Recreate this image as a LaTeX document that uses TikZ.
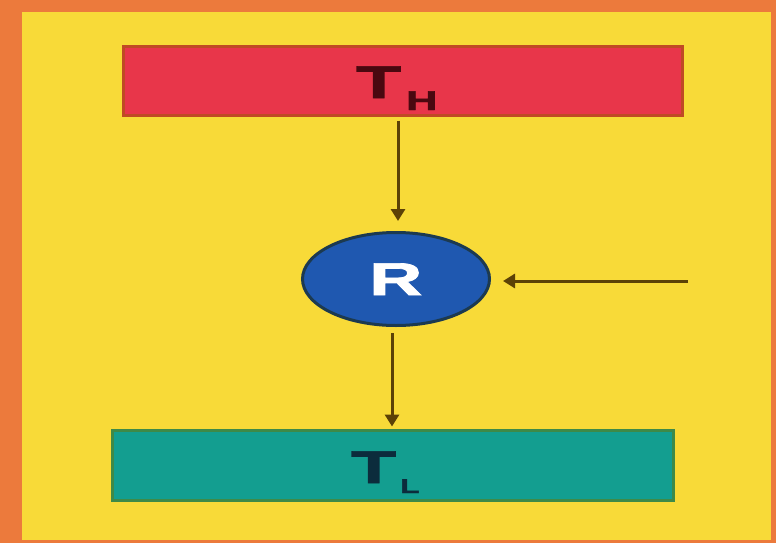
\documentclass[tikz,border=0pt]{standalone}
\usepackage{fontspec}
\setmainfont{Liberation Sans}
\newfontfamily\heavyfont[FakeBold=1.5]{Liberation Sans Bold}
\usetikzlibrary{arrows.meta,shapes.geometric}
\definecolor{bgorange}{HTML}{EC7A3C}
\definecolor{bgyellow}{HTML}{F8DA38}
\definecolor{boxred}{HTML}{E8364A}
\definecolor{boxredline}{HTML}{C04A24}
\definecolor{boxteal}{HTML}{139E90}
\definecolor{boxtealline}{HTML}{3E8A48}
\definecolor{circblue}{HTML}{1F58B0}
\definecolor{circline}{HTML}{1C3A50}
\definecolor{arrbrown}{HTML}{5C4206}
\definecolor{txtred}{HTML}{4A0810}
\definecolor{txtnavy}{HTML}{0C2C3C}
\newcommand{\widetxt}[1]{\scalebox{1.6}[1]{#1}}
\tikzset{
  tempbox/.style={rectangle, draw, line width=3pt, inner sep=0pt},
  arr/.style={draw=arrbrown, line width=3pt, -{Triangle[length=12pt,width=14pt]}},
}
\begin{document}
\begin{tikzpicture}[x=1pt,y=-1pt]
\useasboundingbox (0,0) rectangle (776,543);
\fill[bgorange] (0,0) rectangle (776,543);
\fill[bgyellow] (22,12) rectangle (771,540);
\node[tempbox, fill=boxred, draw=boxredline, minimum width=559pt, minimum height=68pt] (th) at (403,81) {};
\node[text=txtred, font=\heavyfont\fontsize{46}{46}\selectfont, inner sep=0pt, anchor=base west] (thlab) at (356,98) {\widetxt{T}\hspace{5pt}\raisebox{-12pt}{\widetxt{\fontsize{27}{27}\selectfont H}}};
\node[ellipse, draw=circline, line width=3pt, fill=circblue, minimum width=187pt, minimum height=93pt, inner sep=0pt] (r) at (396,279) {};
\node[text=white, font=\heavyfont\fontsize{46}{46}\selectfont, inner sep=0pt, anchor=base west] (rlab) at (369,295) {\widetxt{R}};
\node[tempbox, fill=boxteal, draw=boxtealline, minimum width=561pt, minimum height=70pt] (tl) at (393,465) {};
\node[text=txtnavy, font=\heavyfont\fontsize{46}{46}\selectfont, inner sep=0pt, anchor=base west] (tllab) at (351,483) {\widetxt{T}\hspace{4pt}\raisebox{-10pt}{\widetxt{\fontsize{20}{20}\selectfont L}}};
\coordinate (src) at (688,281);
\draw[arr, shorten <=4pt, shorten >=10pt] ([xshift=2pt]th.south -| r.north) -- ([xshift=2pt]r.north);
\draw[arr, shorten <=6pt, shorten >=2pt] ([xshift=-4pt]r.south) -- ([xshift=-4pt]r.south |- tl.north);
\draw[arr, shorten >=12pt] (src) -- (src -| r.east);
\end{tikzpicture}
\end{document}
